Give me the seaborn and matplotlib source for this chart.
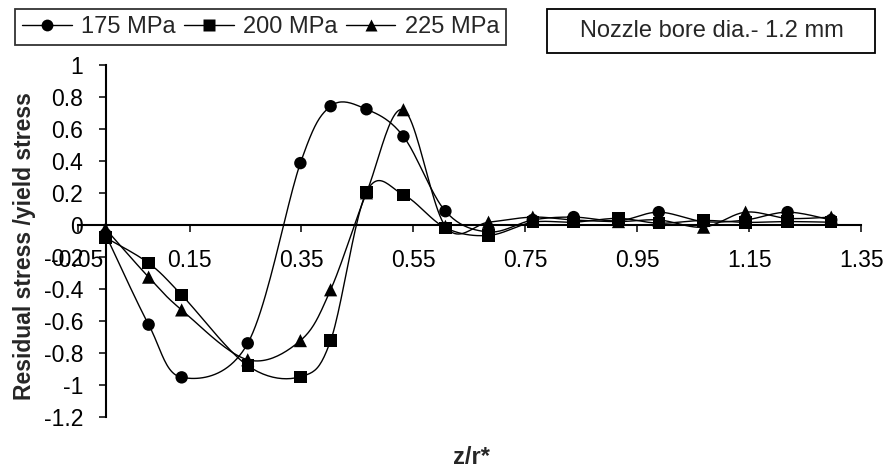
import numpy as np
import pandas as pd
import matplotlib
matplotlib.use("Agg")
import matplotlib.pyplot as plt
from matplotlib.lines import Line2D
from matplotlib.patches import Rectangle
import seaborn as sns

# ---- data ----
z_r = [0, 0.077, 0.136, 0.254, 0.348, 0.402, 0.466, 0.532, 0.607, 0.684,
       0.763, 0.836, 0.916, 0.988, 1.068, 1.143, 1.218, 1.296]
s175 = [-0.06, -0.625, -0.955, -0.742, 0.386, 0.742, 0.723, 0.553, 0.085, -0.045,
        0.03, 0.048, 0.025, 0.079, 0.02, 0.03, 0.079, 0.03]
s200 = [-0.08, -0.24, -0.439, -0.882, -0.951, -0.725, 0.205, 0.188, -0.019, -0.067,
        0.016, 0.016, 0.04, 0.01, 0.027, 0.015, 0.02, 0.016]
s225 = [-0.025, -0.328, -0.533, -0.845, -0.725, -0.407, 0.2, 0.72, -0.01, 0.016,
        0.048, 0.03, 0.02, 0.03, -0.015, 0.079, 0.04, 0.048]
series_names = ["175 MPa", "200 MPa", "225 MPa"]
series_vals = [s175, s200, s225]
markers = ["o", "s", "^"]
x_ticks = [-0.05, 0.15, 0.35, 0.55, 0.75, 0.95, 1.15, 1.35]
x_ticklabels = ["-0.05", "0.15", "0.35", "0.55", "0.75", "0.95", "1.15", "1.35"]
y_ticks = [1, 0.8, 0.6, 0.4, 0.2, 0, -0.2, -0.4, -0.6, -0.8, -1, -1.2]
y_ticklabels = ["1", "0.8", "0.6", "0.4", "0.2", "0", "-0.2", "-0.4", "-0.6", "-0.8", "-1", "-1.2"]
note_text = "Nozzle bore dia.- 1.2 mm"


def smooth(xs, ys, n=24):
    """Excel-like smoothed line: cubic Bezier segments with Catmull-Rom controls."""
    P = np.column_stack([xs, ys]).astype(float)
    m = len(P)
    out = []
    t = np.linspace(0, 1, n)
    for i in range(m - 1):
        p0 = P[i]
        p3 = P[i + 1]
        pm = P[i - 1] if i > 0 else P[i]
        pp = P[i + 2] if i + 2 < m else P[i + 1]
        c1 = p0 + (p3 - pm) / 6.0
        c2 = p3 - (pp - p0) / 6.0
        seg = ((1 - t)[:, None] ** 3 * p0 + 3 * ((1 - t) ** 2 * t)[:, None] * c1
               + 3 * ((1 - t) * t ** 2)[:, None] * c2 + (t ** 3)[:, None] * p3)
        out.append(seg if i == 0 else seg[1:])
    out = np.vstack(out)
    return out[:, 0], out[:, 1]


sns.set_style("white")
plt.rcParams["font.family"] = ["Liberation Sans", "DejaVu Sans"]

W, H = 885, 470
fig = plt.figure(figsize=(W / 100, H / 100), dpi=100)
left_px, right_px, top_px, bot_px = 77.5, 861.5, 65, 416.5
ax = fig.add_axes([left_px / W, 1 - bot_px / H, (right_px - left_px) / W, (bot_px - top_px) / H])

for name, vals, mk in zip(series_names, series_vals, markers):
    sx, sy = smooth(z_r, vals)
    curve = pd.DataFrame({"x": sx, "y": sy})
    sns.lineplot(data=curve, x="x", y="y", sort=False, estimator=None, ax=ax,
                 color="black", linewidth=1.0, legend=False)
    pts = pd.DataFrame({"x": z_r, "y": vals})
    size = 80 if mk != "^" else 90
    sns.scatterplot(data=pts, x="x", y="y", marker=mk, s=size, color="black",
                    edgecolor="none", ax=ax, legend=False, zorder=3)

ax.set_xlim(-0.05, 1.35)
ax.set_ylim(-1.2, 1.0)
ax.set_xlabel("")
ax.set_ylabel("")
ax.spines["left"].set_position(("data", 0))
ax.spines["bottom"].set_position(("data", 0))
ax.spines["top"].set_visible(False)
ax.spines["right"].set_visible(False)
for s in ("left", "bottom"):
    ax.spines[s].set_linewidth(1.5)
    ax.spines[s].set_color("black")

ax.set_xticks(x_ticks)
ax.set_xticklabels(x_ticklabels)
ax.set_yticks(y_ticks)
ax.set_yticklabels(y_ticklabels)
ax.tick_params(axis="both", which="major", direction="out", length=5, width=1.1,
               colors="black", labelsize=16.5, labelcolor="black")
ax.tick_params(axis="x", pad=12.5, bottom=True)
ax.tick_params(axis="y", pad=11, left=True)
ax.grid(False)
ax.patch.set_alpha(0)

# axis titles
fig.text(25 / W, 1 - 246 / H, "Residual stress /yield stress", rotation=90,
         ha="center", va="center", fontsize=16.5, fontweight="bold")
fig.text(471 / W, 1 - 457 / H, "z/r*", ha="center", va="center",
         fontsize=17, fontweight="bold")

# legend
handles = [Line2D([0], [0], color="black", lw=1.0, marker=mk, markersize=8.5,
                  markeredgecolor="none") for mk in markers]
leg = fig.legend(handles, series_names, loc="upper left", ncol=3,
                 bbox_to_anchor=(15 / W, 1 - 9 / H), borderaxespad=0,
                 fontsize=17, frameon=True, fancybox=False, edgecolor="black",
                 handlelength=2.1, handletextpad=0.4, columnspacing=0.35,
                 borderpad=0.3)
leg.get_frame().set_linewidth(1.3)

# note box
fig.patches.append(Rectangle((547 / W, 1 - 53 / H), (875 - 547) / W, 44 / H,
                             transform=fig.transFigure, fill=False,
                             edgecolor="black", linewidth=1.3))
fig.text(712 / W, 1 - 31 / H, note_text, ha="center", va="center", fontsize=17)

fig.savefig("out.png", dpi=100)
